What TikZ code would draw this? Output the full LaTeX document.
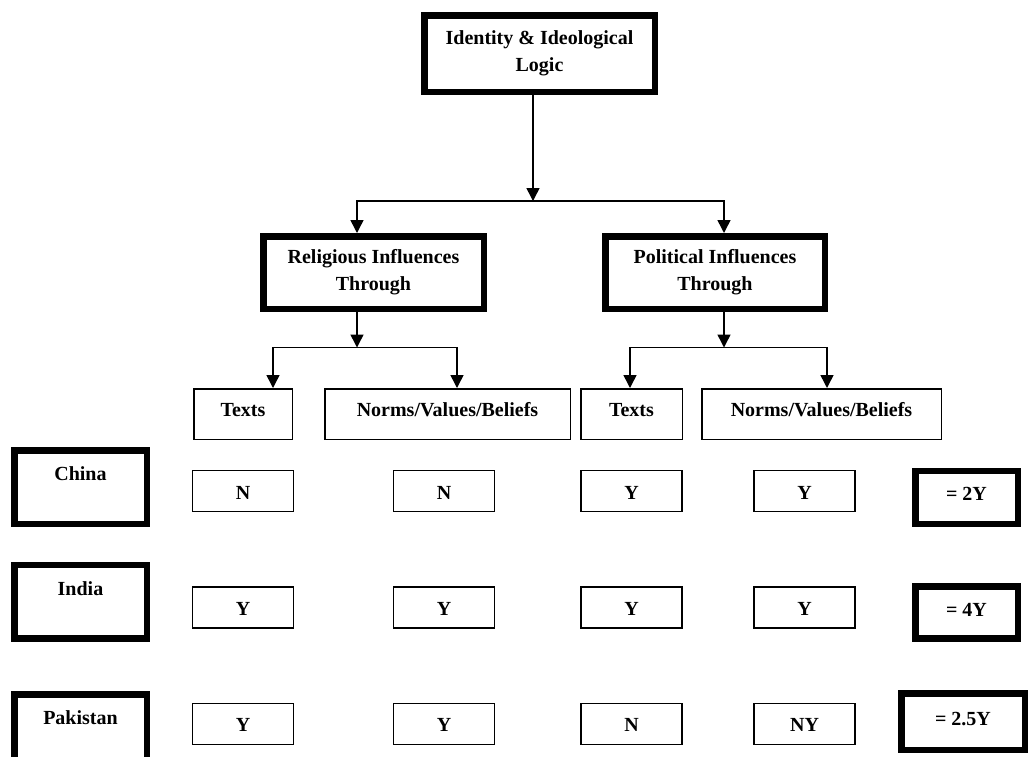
\documentclass[tikz,border=0pt]{standalone}
\usepackage{fontspec}
\setmainfont{Liberation Serif}
\usepackage{tikz}
\usetikzlibrary{arrows.meta}

\begin{document}
\begin{tikzpicture}[x=1pt,y=-1pt,
    every node/.style={font=\bfseries\fontsize{20}{27}\selectfont,align=center,inner sep=0pt},
    heavy/.style={draw,line width=6.5pt},
    plain/.style={draw,line width=1.5pt},
    cell/.style={plain,minimum width=101pt,minimum height=41pt,text height=18pt,text depth=2pt},
    head/.style={plain,minimum height=50.5pt,text height=14pt,text depth=8.5pt},
    country/.style={heavy,minimum width=132.5pt,minimum height=73.5pt,text height=14pt,text depth=27pt},
    link/.style={line width=1.5pt,-{Triangle[length=13pt,width=13pt]}}]
  \useasboundingbox (0,0) rectangle (1029,756);
  % tree
  \node[heavy,minimum width=230.5pt,minimum height=76.5pt] (logic) at (539.5,53.5)
       {Identity \& Ideological\\Logic};
  \node[heavy,minimum width=220.5pt,minimum height=72.5pt] (rel) at (373.5,272.5)
       {Religious Influences\\Through};
  \node[heavy,minimum width=219.5pt,minimum height=72.5pt] (pol) at (715,272.5)
       {Political Influences\\Through};
  \node[head,minimum width=98.5pt]  (rtexts) at (243,414)   {Texts};
  \node[head,minimum width=245.5pt] (rnorms) at (447.5,414) {Norms/Values/Beliefs};
  \node[head,minimum width=101.5pt] (ptexts) at (631.5,414) {Texts};
  \node[head,minimum width=239.5pt] (pnorms) at (821.5,414) {Norms/Values/Beliefs};
  \coordinate (split)    at (533,201);
  \coordinate (relsplit) at (357,347.5);
  \coordinate (polsplit) at (724,347.5);
  \draw[link] (logic.south -| split) -- (split);
  \draw[link] (split) -| (rel.north -| relsplit);
  \draw[link] (split) -| (pol.north -| polsplit);
  \draw[link] (rel.south -| relsplit) -- (relsplit);
  \draw[link] (relsplit) -| ([xshift=30pt]rtexts.north);
  \draw[link] (relsplit) -| ([xshift=9.5pt]rnorms.north);
  \draw[link] (pol.south -| polsplit) -- (polsplit);
  \draw[link] (polsplit) -| ([xshift=-1.5pt]ptexts.north);
  \draw[link] (polsplit) -| ([xshift=5.5pt]pnorms.north);
  % countries and scores
  \foreach \row/\cy/\name in {china/487/China,india/601.7/India,pak/731/Pakistan}{
    \node[country] (\row) at (80.5,\cy) {\name};}
  \foreach \row/\y/\a/\b/\c/\d in {china/491.2/N/N/Y/Y,india/607.7/Y/Y/Y/Y,
                                   pak/723.8/Y/Y/N/NY}{
    \node[cell] (\row-1) at (243,\y)   {\a};
    \node[cell] (\row-2) at (444,\y)   {\b};
    \node[cell] (\row-3) at (631.5,\y) {\c};
    \node[cell] (\row-4) at (804.5,\y) {\d};}
  \node[heavy,minimum width=102.5pt,minimum height=53pt,text height=14pt,text depth=9pt]
       (china-sum) at (966.5,497.5) {= 2Y};
  \node[heavy,minimum width=102.5pt,minimum height=52pt,text height=14pt,text depth=6pt]
       (india-sum) at (966.5,612.5) {= 4Y};
  \node[heavy,minimum width=123.5pt,minimum height=56.5pt,text height=14pt,text depth=7pt]
       (pak-sum) at (963,721.5) {= 2.5Y};
\end{tikzpicture}
\end{document}
